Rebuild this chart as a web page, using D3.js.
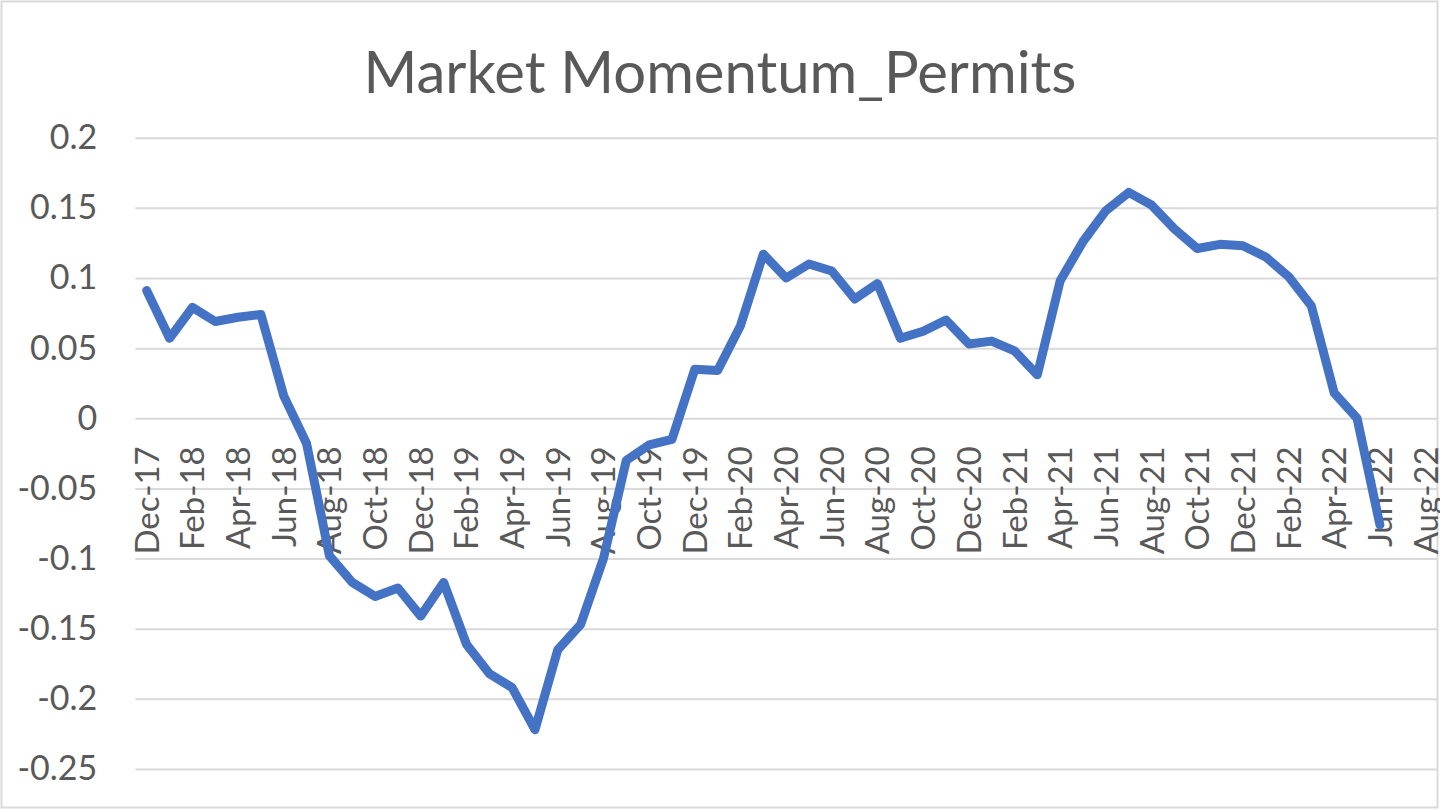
<!DOCTYPE html>
<html>
<head>
<meta charset="utf-8">
<script src="https://cdn.jsdelivr.net/npm/d3@7"></script>
<style>
  body { margin: 0; background: #fff; }
  text { font-family: Lato, "Open Sans", sans-serif; fill: #595959; }
</style>
</head>
<body>
<div id="chart"></div>
<script>
// axis months shown (date axis runs Dec-17 .. Aug-22)
var axisMonths = ["Dec-17",
    "Jan-18", "Feb-18", "Mar-18", "Apr-18", "May-18", "Jun-18", "Jul-18", "Aug-18", "Sep-18", "Oct-18", "Nov-18", "Dec-18",
    "Jan-19", "Feb-19", "Mar-19", "Apr-19", "May-19", "Jun-19", "Jul-19", "Aug-19", "Sep-19", "Oct-19", "Nov-19", "Dec-19",
    "Jan-20", "Feb-20", "Mar-20", "Apr-20", "May-20", "Jun-20", "Jul-20", "Aug-20", "Sep-20", "Oct-20", "Nov-20", "Dec-20",
    "Jan-21", "Feb-21", "Mar-21", "Apr-21", "May-21", "Jun-21", "Jul-21", "Aug-21", "Sep-21", "Oct-21", "Nov-21", "Dec-21",
    "Jan-22", "Feb-22", "Mar-22", "Apr-22", "May-22", "Jun-22", "Jul-22", "Aug-22"];

// tick labels every 2 months
var tickLabels = axisMonths.filter(function (d, i) { return i % 2 === 0; });

// permits momentum, Dec-17 .. Jun-22
var momentum = [0.091,
    0.057, 0.079, 0.069, 0.072, 0.074, 0.016, -0.018, -0.098, -0.117, -0.127, -0.121, -0.141,
    -0.117, -0.161, -0.182, -0.192, -0.222, -0.165, -0.147, -0.100, -0.030, -0.019, -0.015, 0.035,
    0.034, 0.066, 0.117, 0.100, 0.110, 0.105, 0.085, 0.096, 0.057, 0.062, 0.070, 0.053,
    0.055, 0.048, 0.031, 0.098, 0.126, 0.148, 0.161, 0.152, 0.135, 0.121, 0.124, 0.123,
    0.115, 0.101, 0.080, 0.018, 0.000, -0.076];

var yTicks = [-0.25, -0.2, -0.15, -0.1, -0.05, 0, 0.05, 0.1, 0.15, 0.2];

var title = "Market Momentum_Permits";

var W = 1440, H = 810;
var margin = { top: 137.7, right: 3, bottom: 41, left: 135.3 };

var svg = d3.select("#chart").append("svg")
    .attr("width", W)
    .attr("height", H);

// chart area border
svg.append("rect")
    .attr("x", 1.5).attr("y", 1.5)
    .attr("width", W - 4).attr("height", H - 4)
    .attr("fill", "#fff")
    .attr("stroke", "#d9d9d9")
    .attr("stroke-width", 2);

var xScale = d3.scaleBand()
    .domain(axisMonths)
    .range([margin.left, W - margin.right]);

var yScale = d3.scaleLinear()
    .domain([-0.25, 0.2])
    .range([H - margin.bottom, margin.top]);

function xPos(m) {
    return xScale(m) + xScale.bandwidth() / 2;
}

// gridlines + y labels
var yAxis = d3.axisLeft(yScale)
    .tickValues(yTicks)
    .tickSize(-(W - margin.right - margin.left))
    .tickPadding(38)
    .tickFormat(function (d) { return d === 0 ? "0" : String(d); });

var yAxis_g = svg.append("g")
    .attr("transform", "translate(" + margin.left + ",0)")
    .call(yAxis);
yAxis_g.select(".domain").remove();
yAxis_g.selectAll(".tick line")
    .attr("stroke", "#d9d9d9")
    .attr("stroke-width", 2);
yAxis_g.selectAll(".tick text")
    .attr("font-size", 34)
    .style("fill", "#595959");

// x labels sit just under the zero line, rotated
var xAxis_g = svg.append("g").attr("class", "x axis");
xAxis_g.selectAll("text")
    .data(tickLabels)
    .enter().append("text")
    .attr("transform", function (d) {
        return "translate(" + (xPos(d) + 12) + "," + (yScale(0) + 28) + ") rotate(-90)";
    })
    .attr("text-anchor", "end")
    .attr("font-size", 33)
    .text(function (d) { return d; });

// the line
var line = d3.line()
    .x(function (d, i) { return xPos(axisMonths[i]); })
    .y(function (d) { return yScale(d); });

svg.append("path")
    .datum(momentum)
    .attr("d", line)
    .attr("fill", "none")
    .attr("stroke", "#4472c4")
    .attr("stroke-width", 9)
    .attr("stroke-linejoin", "round")
    .attr("stroke-linecap", "round");

svg.append("text")
    .attr("x", 720)
    .attr("y", 93)
    .attr("text-anchor", "middle")
    .attr("font-size", 58)
    .text(title);
</script>
</body>
</html>
